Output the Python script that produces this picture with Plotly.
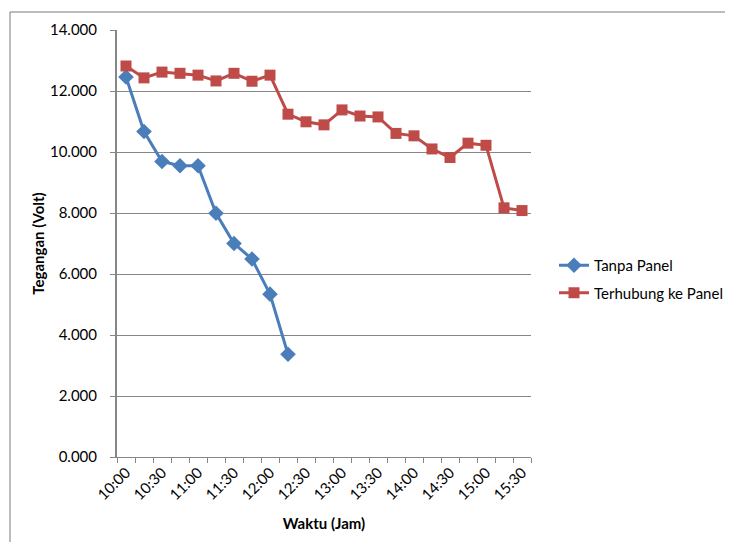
import plotly.graph_objects as go

times = ["10:00","10:15","10:30","10:45","11:00","11:15","11:30","11:45","12:00","12:15",
         "12:30","12:45","13:00","13:15","13:30","13:45","14:00","14:15","14:30","14:45",
         "15:00","15:15","15:30"]
tanpa_panel = [12.46, 10.67, 9.69, 9.55, 9.55, 7.99, 7.00, 6.49, 5.34, 3.37]
terhubung = [12.82, 12.43, 12.62, 12.58, 12.52, 12.33, 12.58, 12.32, 12.52, 11.24,
             10.99, 10.89, 11.38, 11.18, 11.15, 10.61, 10.53, 10.10, 9.82, 10.29,
             10.22, 8.17, 8.08]
y_ticks = [0, 2, 4, 6, 8, 10, 12, 14]
tick_text = [t if i % 2 == 0 else "" for i, t in enumerate(times)]

FONT = "Lato, 'Open Sans', Arial, sans-serif"
GRID = "#868686"

fig = go.Figure()
fig.add_trace(go.Scatter(
    x=times[:len(tanpa_panel)], y=tanpa_panel, name="Tanpa Panel", mode="lines+markers",
    line=dict(color="#4A7EBB", width=3), legendgroup="a",
    marker=dict(symbol="diamond", size=12, color="#4A7EBB")))
fig.add_trace(go.Scatter(
    x=times, y=terhubung, name="Terhubung ke Panel", mode="lines+markers",
    line=dict(color="#BE4B48", width=3), legendgroup="b",
    marker=dict(symbol="square", size=11, color="#BE4B48")))

OFF = 8  # page body margin
W, H = 733 - OFF, 542 - OFF
L, R, T, B = 117 - OFF, 531 - OFF, 30 - OFF, 457 - OFF
pw, ph = R - L, B - T
def px(xp): return (xp - OFF - L) / pw
def py(yp): return (B - (yp - OFF)) / ph

fig.update_layout(
    width=W, height=H,
    margin=dict(l=L, r=W - R, t=T, b=H - B, pad=0, autoexpand=False),
    paper_bgcolor="white", plot_bgcolor="white",
    font=dict(family=FONT, size=15, color="#000000"),
    showlegend=True,
    legend=dict(x=px(554), y=py(249), xanchor="left", yanchor="top",
                font=dict(size=15), tracegroupgap=5, traceorder="grouped",
                bgcolor="rgba(0,0,0,0)"),
    xaxis=dict(type="category", categoryorder="array", categoryarray=times,
               range=[-0.5, len(times) - 0.5],
               tickmode="array", tickvals=times, ticktext=tick_text,
               tickson="boundaries", ticks="outside", ticklen=5, tickcolor=GRID,
               tickangle=-45, showgrid=False, zeroline=False,
               showline=True, linecolor=GRID, linewidth=1,
               tickfont=dict(size=15),
               title=dict(text="<b>Waktu (Jam)</b>", font=dict(size=15), standoff=16)),
    yaxis=dict(range=[0, 14], tickmode="array", tickvals=y_ticks,
               ticktext=[f"{v:.3f}" for v in y_ticks],
               ticks="outside", ticklen=5, tickcolor=GRID,
               ticklabelposition="outside", ticklabelstandoff=10,
               showgrid=True, gridcolor=GRID, gridwidth=1, zeroline=False,
               showline=True, linecolor=GRID, linewidth=2,
               tickfont=dict(size=15),
               title=dict(text="<b>Tegangan (Volt)</b>", font=dict(size=15), standoff=2)),
    shapes=[
        dict(type="line", xref="paper", yref="paper", x0=px(10), x1=px(745), y0=py(12), y1=py(12),
             line=dict(color="#A6A6A6", width=1.5)),
        dict(type="line", xref="paper", yref="paper", x0=px(10), x1=px(10), y0=py(12), y1=py(560),
             line=dict(color="#A6A6A6", width=1.5)),
    ],
)

fig.write_html("out.html")
